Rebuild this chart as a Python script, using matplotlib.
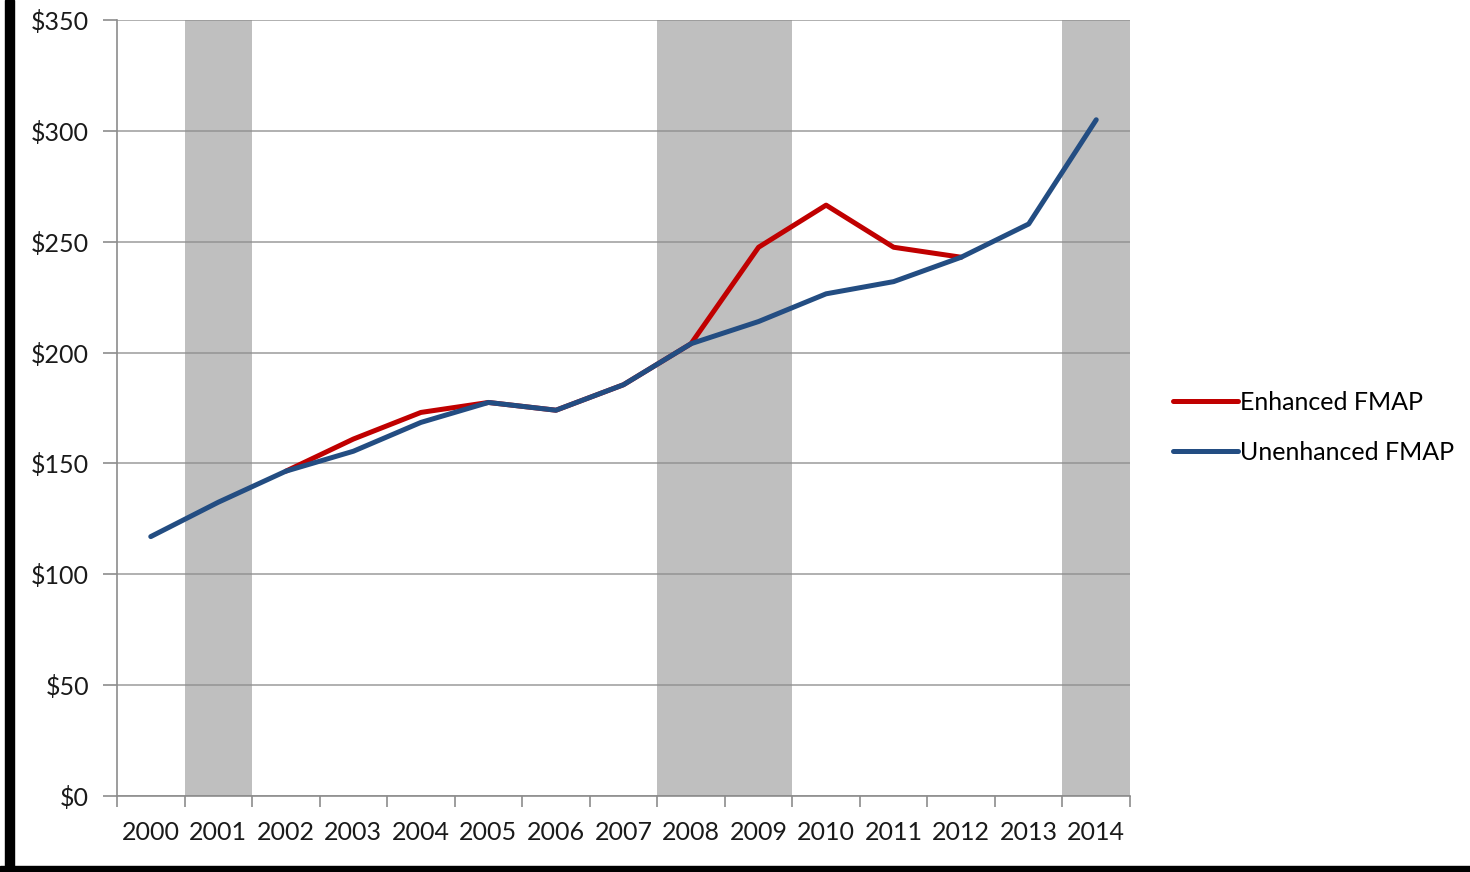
import numpy as np
import matplotlib
matplotlib.use('Agg')
import matplotlib.pyplot as plt
from matplotlib.patches import Rectangle

years = ['2000', '2001', '2002', '2003', '2004', '2005', '2006', '2007',
         '2008', '2009', '2010', '2011', '2012', '2013', '2014']
unenhanced = [117, 132.5, 146.5, 155.5, 168.5, 177.5, 174, 185.5,
              204, 214, 226.5, 232, 243, 258, 305]
# enhanced FMAP series runs 2002-2012
enhanced_years = years[2:13]
enhanced = [146.5, 161, 173, 177.5, 174, 185.5, 204, 247.5, 266.5, 247.5, 243]
recession_shading = [('2001', '2001'), ('2008', '2009'), ('2014', '2014')]
y_ticks = [0, 50, 100, 150, 200, 250, 300, 350]

plt.rcParams['font.family'] = ['Lato', 'DejaVu Sans']

fig = plt.figure(figsize=(14.7, 8.72), dpi=100)
ax = fig.add_axes([117 / 1470, 1 - 796 / 872, (1130 - 117) / 1470, (796 - 20) / 872])

x = np.arange(len(years))
ex = np.array([years.index(y) for y in enhanced_years])

# shaded columns
for a, b in recession_shading:
    ax.axvspan(years.index(a) - 0.5, years.index(b) + 0.5, color='#bfbfbf', lw=0, zorder=0)

# gridlines
for v in y_ticks:
    ax.axhline(v, color='#8c8c8c', lw=1.2, alpha=0.8, zorder=1)

ax.plot(ex, enhanced, color='#c00000', lw=3.6, label='Enhanced FMAP',
        solid_capstyle='round', zorder=3)
ax.plot(x, unenhanced, color='#234d82', lw=3.6, label='Unenhanced FMAP',
        solid_capstyle='round', zorder=4)

ax.set_xlim(-0.5, len(years) - 0.5)
ax.set_ylim(0, 350)

ax.set_yticks(y_ticks)
ax.set_yticklabels([f'${v}' for v in y_ticks])
ax.set_xticks(np.arange(-0.5, len(years)), labels=[''] * (len(years) + 1))
ax.set_xticks(x, labels=years, minor=True)

ax.tick_params(axis='y', length=10, width=1.2, color='#8c8c8c', pad=10,
               labelsize=18, labelcolor='#1a1a1a')
ax.tick_params(axis='x', which='major', length=8, width=1.2, color='#8c8c8c')
ax.tick_params(axis='x', which='minor', length=0, pad=18, labelsize=18,
               labelcolor='#1a1a1a')

for s in ['top', 'right']:
    ax.spines[s].set_visible(False)
for s in ['left', 'bottom']:
    ax.spines[s].set_color('#8c8c8c')
    ax.spines[s].set_linewidth(1.2)

leg = ax.legend(loc='center left', bbox_to_anchor=(1.02, 0.475), frameon=False,
                fontsize=18, handlelength=2.6, handletextpad=0.1,
                labelspacing=1.1)
for h in leg.get_lines():
    h.set_linewidth(3.6)

# black frame edges (left and bottom)
fig.patches.append(Rectangle((5 / 1470, 0), 9 / 1470, 1, transform=fig.transFigure,
                             color='black', zorder=10))
fig.patches.append(Rectangle((0, 0), 1, 6 / 872, transform=fig.transFigure,
                             color='black', zorder=10))

fig.savefig('out.png', dpi=100, facecolor='white')
